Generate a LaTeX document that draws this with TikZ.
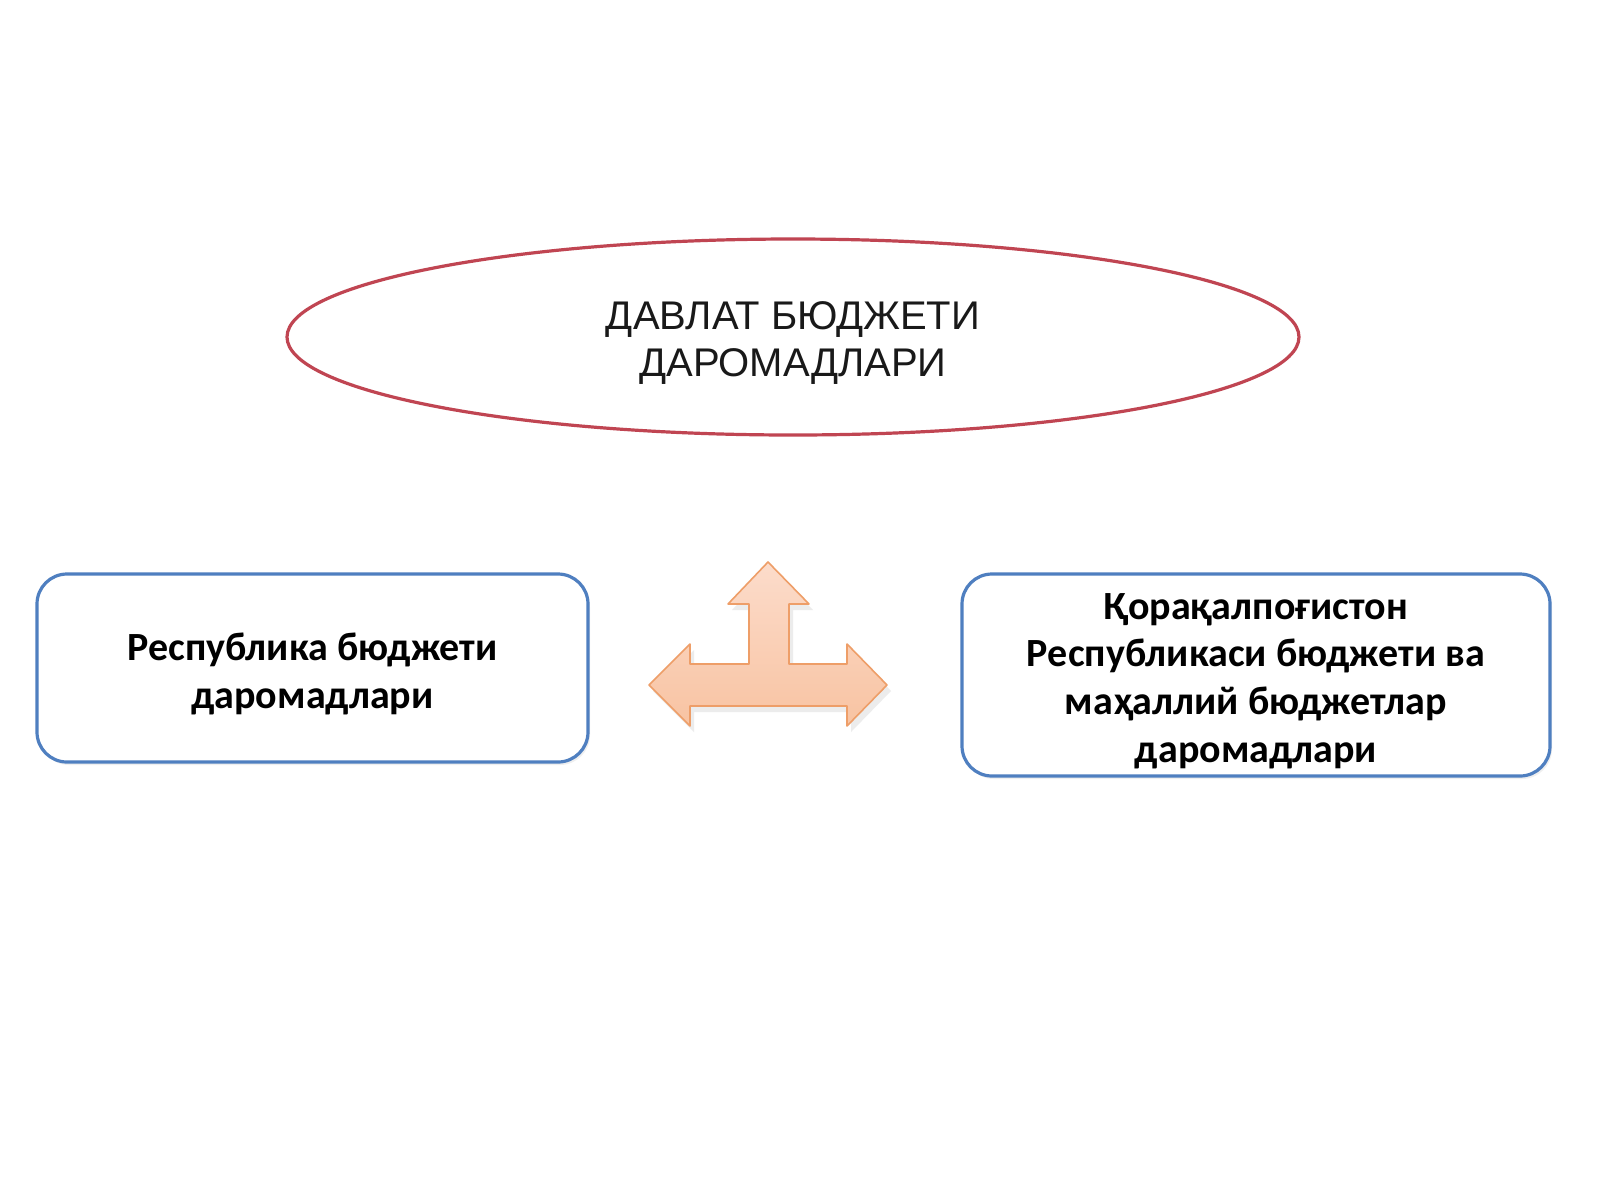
\documentclass[tikz,border=0pt]{standalone}
\usepackage{fontspec}
\setmainfont{Liberation Sans}
\newfontfamily\boxfont{Carlito}
\usetikzlibrary{shapes.geometric,shadows}
\definecolor{ellred}{HTML}{C04552}
\definecolor{boxblue}{HTML}{4F7FC0}
\definecolor{arrtop}{HTML}{FCDCCB}
\definecolor{arrbot}{HTML}{F8C3A2}
\definecolor{arredge}{HTML}{EE9E68}
\newcommand{\toppush}[1]{\rule{0pt}{#1}}
\tikzset{
  titleell/.style={ellipse, draw=ellred, line width=1.6pt, minimum width=506pt, minimum height=98pt, inner sep=0pt,
    font=\fontsize{20}{23.5}\selectfont, align=center, text=black!90},
  budgetbox/.style={draw=boxblue, line width=1.6pt, rounded corners=15pt, fill=white, align=center,
    font=\boxfont\bfseries\fontsize{20}{23.8}\selectfont, inner sep=0pt,
    drop shadow={shadow xshift=1pt, shadow yshift=-1.5pt, opacity=0.12}},
  arrowshape/.style={top color=arrtop, bottom color=arrbot, draw=arredge, line width=0.8pt, line join=round,
    drop shadow={shadow xshift=2pt, shadow yshift=-3pt, opacity=0.15}}
}
\begin{document}
\begin{tikzpicture}[x=0.5pt,y=-0.5pt]
\useasboundingbox[fill=white] (0,0) rectangle (1600,1200);
\node[titleell] (state) at (793,337) {\toppush{20.3pt}ДАВЛАТ БЮДЖЕТИ\\ДАРОМАДЛАРИ};
\node[budgetbox, minimum width=275.5pt, minimum height=94pt] (rep) at (312.5,668)
  {\toppush{20pt}Республика бюджети\\даромадлари};
\node[budgetbox, minimum width=294pt, minimum height=101pt] (kar) at (1256,675)
  {\toppush{19pt}Қорақалпоғистон\\Республикаси бюджети ва\\маҳаллий бюджетлар\\даромадлари};
\path[arrowshape] (768,562) -- (809,604) -- (789,604) -- (789,664) -- (847,664) -- (847,644) -- (887,685)
  -- (847,726) -- (847,706) -- (690,706) -- (690,726) -- (649,685) -- (690,644) -- (690,664)
  -- (749,664) -- (749,604) -- (728,604) -- cycle;
\end{tikzpicture}
\end{document}
